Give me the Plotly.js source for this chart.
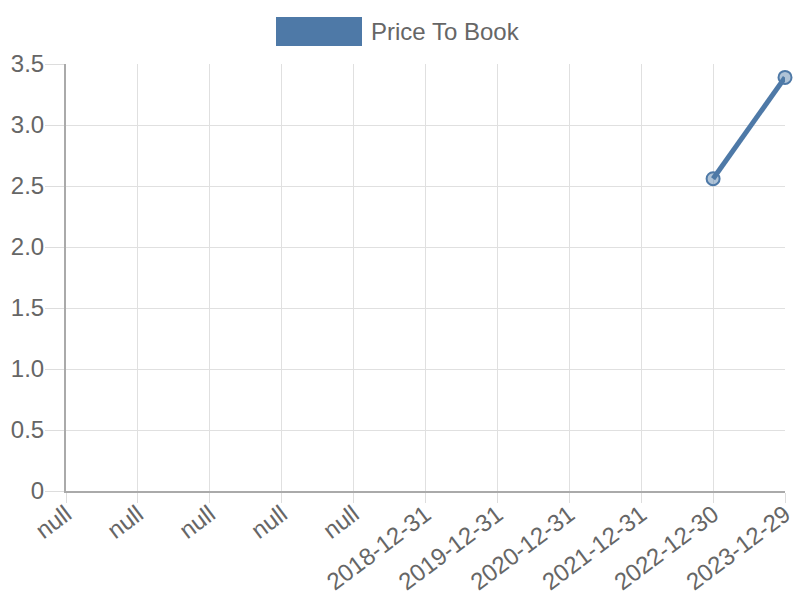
<!DOCTYPE html>
<html>
<head>
<meta charset="utf-8">
<script src="https://cdn.plot.ly/plotly-3.0.1.min.js"></script>
<style>
  body { margin: 0; background: #fff; }
  #chart { width: 800px; height: 600px; }
</style>
</head>
<body>
<div id="chart"></div>
<script>
// labels as they come from the source (several are literally "null")
const dates = ["null", "null", "null", "null", "null", "2018-12-31", "2019-12-31", "2020-12-31", "2021-12-31", "2022-12-30", "2023-12-29"];
const priceToBook = [null, null, null, null, null, null, null, null, null, 2.56, 3.39];
const yTicks = [0, 0.5, 1, 1.5, 2, 2.5, 3, 3.5];
const yTickText = ["0", "0.5", "1.0", "1.5", "2.0", "2.5", "3.0", "3.5"];
const seriesName = "Price To Book";

const blue = "#4e79a7";
const idx = dates.map((_, i) => i);

const trace = {
  x: idx,
  y: priceToBook,
  type: "scatter",
  mode: "lines+markers",
  name: seriesName,
  showlegend: false,
  connectgaps: false,
  line: { color: blue, width: 5 },
  marker: {
    size: 13,
    color: "rgba(78,121,167,0.45)",
    line: { color: blue, width: 2 }
  },
  cliponaxis: false,
  hoverinfo: "y"
};

const font = { family: "Liberation Sans, Arial, sans-serif", size: 24, color: "#666" };

const layout = {
  width: 800,
  height: 600,
  margin: { l: 66, r: 15, t: 64, b: 109 },
  paper_bgcolor: "#fff",
  plot_bgcolor: "#fff",
  font: font,
  xaxis: {
    range: [0, dates.length - 1],
    tickvals: idx,
    ticktext: dates,
    tickangle: -37,
    showgrid: true,
    gridcolor: "#e0e0e0",
    gridwidth: 1,
    zeroline: false,
    showline: true,
    linecolor: "#aaa",
    linewidth: 2,
    ticks: "outside",
    ticklen: 10,
    ticklabelstandoff: -12,
    tickcolor: "#ddd",
    tickfont: font
  },
  yaxis: {
    range: [0, 3.5],
    tickvals: yTicks,
    ticktext: yTickText,
    showgrid: true,
    gridcolor: "#e0e0e0",
    zeroline: false,
    showline: true,
    linecolor: "#aaa",
    linewidth: 2,
    ticks: "outside",
    ticklen: 19,
    ticklabelstandoff: -4,
    tickcolor: "#ddd",
    tickfont: font
  },
  shapes: [
    {
      type: "rect", xref: "paper", yref: "paper",
      x0: (276 - 66) / 719, x1: (362 - 66) / 719,
      y0: (491 - 46) / 427, y1: (491 - 17) / 427,
      fillcolor: blue, line: { width: 0 }
    }
  ],
  annotations: [
    {
      text: seriesName, xref: "paper", yref: "paper",
      x: (369 - 66) / 719, y: (491 - 32) / 427,
      xanchor: "left", yanchor: "middle", showarrow: false,
      font: { family: font.family, size: 24, color: "#666" }
    }
  ]
};

Plotly.newPlot("chart", [trace], layout, { displayModeBar: false, staticPlot: true });
</script>
</body>
</html>
